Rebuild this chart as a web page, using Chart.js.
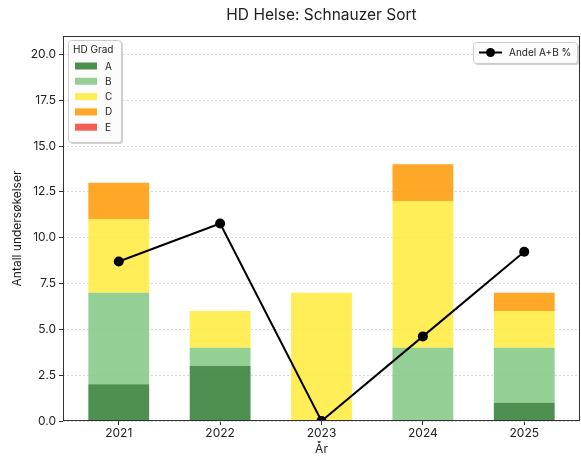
<!DOCTYPE html>
<html>
<head>
<meta charset="utf-8">
<script src="https://cdn.jsdelivr.net/npm/chart.js@4/dist/chart.umd.min.js"></script>
<style>
  html, body { margin: 0; padding: 0; background: #fff; }
  #wrap { width: 581px; height: 458px; }
</style>
</head>
<body>
<div id="wrap"><canvas id="hdChart" width="581" height="458"></canvas></div>
<script>
// --- data ---
const years = ["2021", "2022", "2023", "2024", "2025"];
const gradeA = [2, 3, 0, 0, 1];
const gradeB = [5, 1, 0, 4, 3];
const gradeC = [4, 2, 7, 8, 2];
const gradeD = [2, 0, 0, 2, 1];
const gradeE = [0, 0, 0, 0, 0];
const andelAB = [53.85, 66.67, 0, 28.57, 57.14];
const yTicks = [0, 2.5, 5, 7.5, 10, 12.5, 15, 17.5, 20];

const FONT = "Inter, 'DejaVu Sans', sans-serif";
const grades = [
    { label: "A", data: gradeA, color: "rgba(46,125,50,0.85)" },
    { label: "B", data: gradeB, color: "rgba(129,199,132,0.85)" },
    { label: "C", data: gradeC, color: "rgba(255,235,59,0.85)" },
    { label: "D", data: gradeD, color: "rgba(255,152,0,0.85)" },
    { label: "E", data: gradeE, color: "rgba(244,67,54,0.85)" }
];

const toPoints = (arr) => arr.map((v, i) => ({ x: i, y: v }));

const barSets = grades.map(g => ({
    type: "bar",
    label: g.label,
    data: toPoints(g.data),
    backgroundColor: g.color,
    borderWidth: 0,
    stack: "hd",
    yAxisID: "y",
    categoryPercentage: 1,
    barPercentage: 0.6,
    order: 2
}));

const lineSet = {
    type: "line",
    label: "Andel A+B %",
    data: toPoints(andelAB),
    borderColor: "#000",
    backgroundColor: "#000",
    borderWidth: 2,
    pointRadius: 5,
    pointBackgroundColor: "#000",
    pointBorderWidth: 0,
    yAxisID: "y2",
    order: 1
};

// frame + title + the two boxed legends
const decor = {
    id: "decor",
    afterDatasetsDraw(chart) {
        const { ctx, chartArea: a } = chart;
        ctx.save();
        ctx.strokeStyle = "#333";
        ctx.lineWidth = 1;
        ctx.strokeRect(a.left + 0.5, a.top + 0.5, a.right - a.left - 1, a.bottom - a.top - 1);
        ctx.restore();
    },
    afterDraw(chart) {
        const { ctx, chartArea: a } = chart;
        ctx.save();
        // title
        ctx.fillStyle = "#222";
        ctx.font = "15.5px " + FONT;
        ctx.textAlign = "center";
        ctx.textBaseline = "middle";
        ctx.fillText("HD Helse: Schnauzer Sort", (a.left + a.right) / 2, 15);

        const roundRect = (x, y, w, h, r) => {
            ctx.beginPath();
            ctx.moveTo(x + r, y);
            ctx.arcTo(x + w, y, x + w, y + h, r);
            ctx.arcTo(x + w, y + h, x, y + h, r);
            ctx.arcTo(x, y + h, x, y, r);
            ctx.arcTo(x, y, x + w, y, r);
            ctx.closePath();
        };
        const box = (x, y, w, h) => {
            ctx.save();
            ctx.fillStyle = "rgba(0,0,0,0.18)";
            roundRect(x + 2, y + 2, w, h, 3);
            ctx.fill();
            ctx.restore();
            ctx.fillStyle = "rgba(255,255,255,0.92)";
            ctx.strokeStyle = "#ccc";
            ctx.lineWidth = 1;
            roundRect(x + 0.5, y + 0.5, w, h, 3);
            ctx.fill();
            ctx.stroke();
        };

        // grade legend
        const lx = a.left + 5, ly = a.top + 4;
        box(lx, ly, 53, 102);
        ctx.fillStyle = "#222";
        ctx.font = "10px " + FONT;
        ctx.textAlign = "left";
        ctx.fillText("HD Grad", lx + 5, ly + 10);
        grades.forEach((g, i) => {
            const ry = ly + 26 + i * 15.3;
            ctx.fillStyle = g.color;
            ctx.fillRect(lx + 7, ry - 3.5, 22, 7);
            ctx.fillStyle = "#222";
            ctx.fillText(g.label, lx + 37, ry + 0.5);
        });

        // line legend
        const rx = a.right - 107, ry = a.top + 6;
        box(rx, ry, 104, 21);
        ctx.strokeStyle = "#000";
        ctx.lineWidth = 2;
        ctx.beginPath();
        ctx.moveTo(rx + 6, ry + 10.5);
        ctx.lineTo(rx + 29, ry + 10.5);
        ctx.stroke();
        ctx.fillStyle = "#000";
        ctx.beginPath();
        ctx.arc(rx + 17.5, ry + 10.5, 4.5, 0, Math.PI * 2);
        ctx.fill();
        ctx.fillStyle = "#222";
        ctx.font = "10px " + FONT;
        ctx.fillText(lineSet.label, rx + 36, ry + 11);
        ctx.restore();
    }
};

new Chart(document.getElementById("hdChart"), {
    data: { datasets: [...barSets, lineSet] },
    options: {
        responsive: false,
        animation: false,
        layout: { autoPadding: false, padding: { top: 36, right: 1, left: 0, bottom: 0 } },
        plugins: {
            legend: { display: false },
            title: { display: false },
            tooltip: { enabled: false }
        },
        scales: {
            x: {
                type: "linear",
                min: -0.55,
                max: 4.55,
                stacked: true,
                offset: false,
                afterBuildTicks: (s) => { s.ticks = years.map((_, i) => ({ value: i })); },
                grid: { offset: false, drawOnChartArea: false, drawTicks: true, tickLength: 4, color: "#333" },
                border: { display: false },
                ticks: {
                    autoSkip: false,
                    maxRotation: 0,
                    padding: 1,
                    color: "#222",
                    font: { family: FONT, size: 12 },
                    callback: (v) => years[v] ?? ""
                },
                title: { display: true, text: "År", color: "#222", font: { family: FONT, size: 12 }, padding: { top: 0, bottom: 1 } },
                afterFit: (s) => { s.height = 37; s.paddingLeft = 0; s.paddingRight = 0; }
            },
            y: {
                stacked: true,
                min: 0,
                max: 21,
                afterBuildTicks: (s) => { s.ticks = yTicks.map(v => ({ value: v })); },
                grid: { color: "#d0d0d0", lineWidth: 0.8, tickColor: "#333", tickLength: 4, tickBorderDash: [], tickWidth: 1 },
                border: { display: false, dash: [2, 2] },
                ticks: {
                    color: "#222",
                    padding: 3,
                    font: { family: FONT, size: 12 },
                    callback: (v) => Number(v).toFixed(1)
                },
                title: { display: true, text: "Antall undersøkelser", color: "#222", font: { family: FONT, size: 12 }, padding: { top: 10, bottom: 0 } },
                afterFit: (s) => { s.width = 63; }
            },
            y2: {
                display: false,
                position: "right",
                min: 0,
                max: 130
            }
        }
    },
    plugins: [decor]
});
</script>
</body>
</html>
